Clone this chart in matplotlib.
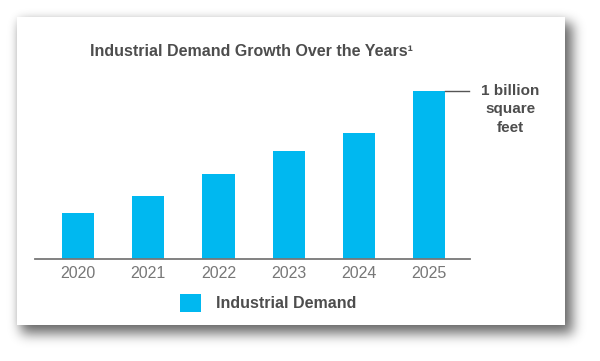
import numpy as np
import matplotlib.pyplot as plt
from matplotlib.patches import Rectangle

plt.rcParams['font.family'] = ['Liberation Sans', 'DejaVu Sans']

# demand in million square feet
years = ['2020', '2021', '2022', '2023', '2024', '2025']
demand = [274, 373, 502, 643, 748, 1000]

bar_color = '#00b8f0'
dark = '#4d4d4d'

W, H = 600, 361
fig = plt.figure(figsize=(W / 100, H / 100), dpi=100)
fig.patch.set_facecolor('white')

card = (17, 17, 565, 325)  # x0, y0, x1, y1 in pixels from top-left


def blur(a, sigma):
    r = int(3 * sigma)
    k = np.exp(-0.5 * (np.arange(-r, r + 1) / sigma) ** 2)
    k /= k.sum()
    a = np.apply_along_axis(lambda v: np.convolve(v, k, mode='same'), 0, a)
    return np.apply_along_axis(lambda v: np.convolve(v, k, mode='same'), 1, a)


# soft drop shadow towards bottom-right plus a faint glow all round
drop = np.zeros((H, W))
drop[card[1] + 6:card[3] + 9, card[0] + 4:card[2] + 8] = 1
glow = np.zeros((H, W))
glow[card[1]:card[3], card[0]:card[2]] = 1
alpha = np.clip(blur(drop, 6) * 0.55 + blur(glow, 4) * 0.08, 0, 1)
shadow = np.zeros((H, W, 4))
shadow[..., 3] = alpha
fig.figimage(shadow, 0, 0, origin='upper', zorder=0)

fig.patches.append(Rectangle((card[0] / W, 1 - card[3] / H), (card[2] - card[0]) / W,
                             (card[3] - card[1]) / H, transform=fig.transFigure,
                             facecolor='white', edgecolor='none', zorder=1))

ax = fig.add_axes([35 / W, (H - 258.7) / H, 435 / W, 168 / H])
ax.set_facecolor('none')
ax.set_zorder(2)

x = range(len(years))
ax.bar(x, demand, width=0.46, color=bar_color, label='Industrial Demand', zorder=2)
ax.set_xlim(-0.61, 5.58)
ax.set_ylim(0, 1000)

for s in ['top', 'right', 'left']:
    ax.spines[s].set_visible(False)
ax.spines['bottom'].set_color('#777777')
ax.spines['bottom'].set_linewidth(1.3)
ax.set_yticks([])
ax.set_xticks(list(x))
ax.set_xticklabels(years, fontsize=11.5, color='#777777')
ax.tick_params(axis='x', length=0, pad=5)

# marker line and label for the 2025 value
ax.plot([5 + 0.23, 5.57], [demand[-1], demand[-1]], color='#555555', lw=1, clip_on=False)
ax.annotate('1 billion\nsquare\nfeet', xy=(6.15, demand[-1]), xytext=(0, 5),
            textcoords='offset points', ha='center', va='top', linespacing=1.4,
            fontsize=11, fontweight='bold', color=dark, annotation_clip=False)

fig.text(251 / W, 1 - 52 / H, 'Industrial Demand Growth Over the Years\u00b9',
         ha='center', va='center', fontsize=11.5, fontweight='bold', color=dark, zorder=3)

leg = ax.legend(loc='center', bbox_to_anchor=(268 / W, 1 - 303 / H), bbox_transform=fig.transFigure,
                frameon=False, handlelength=1.35, handleheight=1.35, handletextpad=0.9,
                prop={'size': 11.5, 'weight': 'bold'})
for t in leg.get_texts():
    t.set_color(dark)

fig.savefig('out.png', dpi=100)
